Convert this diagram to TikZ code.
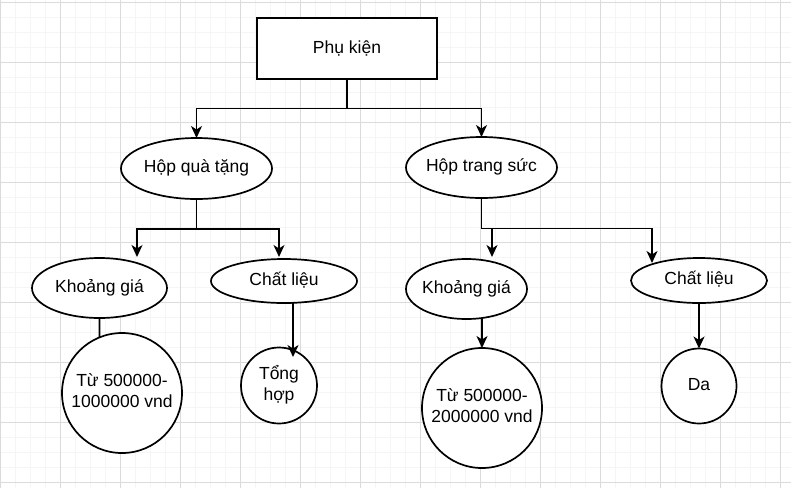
\documentclass[tikz,border=0pt]{standalone}
\usepackage{fontspec}
\setmainfont{Liberation Sans}
\usetikzlibrary{arrows.meta,shapes.geometric,calc}
\tikzset{
  minorgrid/.style={draw=black!4, line width=0.8pt},
  majorgrid/.style={draw=black!14, line width=0.8pt},
  base/.style={draw=black, line width=1.7pt, fill=white, inner sep=0pt, outer sep=0pt,
     font=\fontsize{17.5}{21}\selectfont, text=black},
  rootbox/.style={base, rectangle, minimum width=180pt, minimum height=61pt},
  oval/.style={base, ellipse},
  roundbox/.style={base, circle},
  link/.style={draw=black, line width=1.7pt},
  arr/.style={link, -{Stealth[length=12pt, width=11pt, inset=3.5pt]}},
}
\newcommand{\fixtext}[1]{\makebox[0pt]{\begin{tabular}{@{}c@{}}#1\end{tabular}}}
\begin{document}
\begin{tikzpicture}[x=1pt, y=-1pt]
\useasboundingbox (0,0) rectangle (791,488);
\fill[white] (0,0) rectangle (791,488);
% grid
\foreach \i in {0,...,52} {\draw[minorgrid] ({0.5+15*\i},0) -- ({0.5+15*\i},488);}
\foreach \j in {0,...,32} {\draw[minorgrid] (0,{2.3+15*\j}) -- (791,{2.3+15*\j});}
\foreach \i in {0,...,13} {\draw[majorgrid] ({0.5+60*\i},0) -- ({0.5+60*\i},488);}
\foreach \j in {0,...,8} {\draw[majorgrid] (0,{2.3+60*\j}) -- (791,{2.3+60*\j});}

% nodes
\node[rootbox] (root) at (347,48.5) {Phụ kiện};
\node[oval, minimum width=151pt, minimum height=61pt] (hqt) at (196.5,168.5) {\fixtext{Hộp quà tặng}};
\node[oval, minimum width=151pt, minimum height=61pt] (hts) at (481.5,167.5) {\fixtext{Hộp trang sức}};
\node[oval, minimum width=135pt, minimum height=60pt] (kg1) at (99.5,288) {\fixtext{Khoảng giá}};
\node[oval, minimum width=146pt, minimum height=44pt] (cl1) at (284,281) {\fixtext{Chất liệu}};
\node[oval, minimum width=121pt, minimum height=60pt] (kg2) at (466.5,289) {\fixtext{Khoảng giá}};
\node[oval, minimum width=136pt, minimum height=45pt] (cl2) at (699,280.5) {\fixtext{Chất liệu}};
\node[roundbox, minimum size=120pt] (c1) at (122,393) {\fixtext{Từ 500000-\\1000000 vnd}};
\node[roundbox, minimum size=76pt] (th) at (279,385.5) {\fixtext{Tổng\\hợp}};
\node[roundbox, minimum size=120pt] (c2) at (482,408) {\fixtext{Từ 500000-\\2000000 vnd}};
\node[roundbox, minimum size=75pt] (da) at (699,386) {\fixtext{Da}};

% connectors
\draw[arr] (root.south) -- ++(0,29.5) -| (hqt.north);
\draw[arr] (root.south) -- ++(0,29.5) -| (hts.north);
\draw[arr] (hqt.south) -- ++(0,30) -| ([xshift=37.5pt,yshift=1pt]kg1.north);
\draw[arr] (hqt.south) -- ++(0,30) -| ([xshift=-5pt,yshift=2pt]cl1.north);
\draw[link] (kg1.south) -- (c1.112);
\draw[arr] ([xshift=9pt]cl1.south) -- ($(th.center)+(14,-28.5)$);
\draw[arr] (hts.south) -- ++(0,30.5) -| ([xshift=25.5pt,yshift=2pt]kg2.north);
\draw[arr] (hts.south) -- ++(0,30.5) -| ([xshift=-47pt,yshift=-5pt]cl2.north);
\draw[arr] (kg2.south -| c2.north) -- (c2.north);
\draw[arr] (cl2.south) -- (da.north);
\end{tikzpicture}
\end{document}
